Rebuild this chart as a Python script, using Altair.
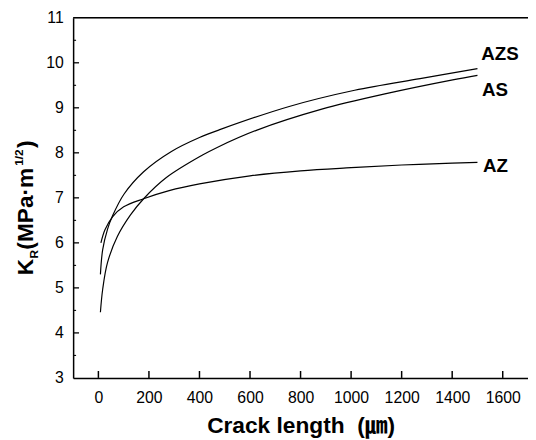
import altair as alt
import pandas as pd

# ---- data ----
az_x = [10, 26, 56, 100, 179, 280, 400, 600, 800, 1000, 1200, 1400, 1500]
az_y = [6.0, 6.29, 6.58, 6.8, 6.98, 7.16, 7.31, 7.49, 7.6, 7.67, 7.73, 7.77, 7.79]
azs_x = [8, 17, 36, 56, 101, 179, 289, 400, 483, 755, 1014, 1273, 1500]
azs_y = [5.3, 5.85, 6.3, 6.6, 7.08, 7.58, 8.03, 8.34, 8.52, 9.03, 9.39, 9.65, 9.87]
as_x = [8, 17, 36, 75, 127, 179, 269, 412, 470, 625, 884, 1143, 1402, 1500]
as_y = [4.46, 4.97, 5.56, 6.14, 6.62, 6.98, 7.45, 7.95, 8.12, 8.5, 8.97, 9.32, 9.62, 9.72]

label_names = ["AZS", "AS", "AZ"]
label_x = [1515, 1518, 1522]
label_y = [10.19, 9.40, 7.71]

x_ticks = [0, 200, 400, 600, 800, 1000, 1200, 1400, 1600]
y_labels = [3, 4, 5, 6, 7, 8, 9, 10, 11]
y_major = [4, 5, 6, 7, 8, 9, 10]
y_minor = [3.5, 4.5, 5.5, 6.5, 7.5, 8.5, 9.5, 10.5]

W, H = 461, 365
FONT = "Liberation Sans"

rows = []
for name, xs_, ys_ in [("AZ", az_x, az_y), ("AZS", azs_x, azs_y), ("AS", as_x, as_y)]:
    for a, b in zip(xs_, ys_):
        rows.append({"series": name, "x": a, "y": b})
df = pd.DataFrame(rows)

xs = alt.Scale(domain=[-100, 1700], nice=False, zero=False)
ys = alt.Scale(domain=[3, 11], nice=False, zero=False)

x_axis = alt.Axis(
    values=x_ticks, format="d", tickSize=0, labelPadding=12, labelFontSize=16, labelFont=FONT,
    labelColor="black", domainColor="black", domainWidth=1.5, grid=False,
    title="Crack length\u00a0\u00a0(\u339b)", titleFont=FONT + ", Noto Sans CJK KR",
    titleFontSize=23, titleFontWeight="bold", titleColor="black", titlePadding=9)
y_axis = alt.Axis(
    values=y_labels, format="d", tickSize=0, labelPadding=10, labelFontSize=16,
    labelFont=FONT, labelColor="black", domainColor="black", domainWidth=1.5,
    grid=False, title="")

lines = alt.Chart(df).mark_line(color="black", strokeWidth=1.2, interpolate="catmull-rom").encode(
    x=alt.X("x:Q", scale=xs, axis=x_axis),
    y=alt.Y("y:Q", scale=ys, axis=y_axis),
    detail="series:N",
)

lab_df = pd.DataFrame({"name": label_names, "x": label_x, "y": label_y})
labels = alt.Chart(lab_df).mark_text(
    align="left", baseline="middle", font=FONT, fontSize=19, fontWeight="bold", color="black"
).encode(
    x=alt.X("x:Q", scale=xs, axis=x_axis),
    y=alt.Y("y:Q", scale=ys, axis=y_axis),
    text="name:N",
)

xt = alt.Chart(pd.DataFrame({"x": x_ticks})).mark_rule(color="black", strokeWidth=1.5).encode(
    x=alt.X("x:Q", scale=xs, axis=x_axis), y=alt.value(H), y2=alt.value(H - 7))
ytM = alt.Chart(pd.DataFrame({"y": y_major})).mark_rule(color="black", strokeWidth=1.3).encode(
    y=alt.Y("y:Q", scale=ys, axis=y_axis), x=alt.value(0), x2=alt.value(6))
ytm = alt.Chart(pd.DataFrame({"y": y_minor})).mark_rule(color="black", strokeWidth=1.1).encode(
    y=alt.Y("y:Q", scale=ys, axis=y_axis), x=alt.value(0), x2=alt.value(3))
top = alt.Chart(pd.DataFrame({"y": [11]})).mark_rule(color="black", strokeWidth=1.5).encode(
    y=alt.Y("y:Q", scale=ys, axis=y_axis), x=alt.value(0), x2=alt.value(W))

one = pd.DataFrame({"t": [0]})


def piece(txt, px, py, size):
    return alt.Chart(one).mark_text(
        text=txt, angle=270, align="left", baseline="alphabetic",
        font=FONT, fontSize=size, fontWeight="bold", color="black"
    ).encode(x=alt.value(px), y=alt.value(py))


ytitle = (
    piece("K", -41, 261, 23)
    + piece("R", -36, 244, 12)
    + piece("(MPa\u00b7m", -41, 235, 23)
    + piece("1/2", -51, 150, 12)
    + piece(")", -41, 132, 23)
)

chart = alt.layer(lines, labels, xt, ytM, ytm, top, ytitle).properties(
    width=W, height=H,
    autosize=alt.AutoSizeParams(type="none"),
    padding={"left": 66, "top": 7, "right": 0, "bottom": 60},
).configure_view(stroke=None).configure(background="white")

chart.save("out.html", embed_options={"renderer": "svg", "actions": False})
